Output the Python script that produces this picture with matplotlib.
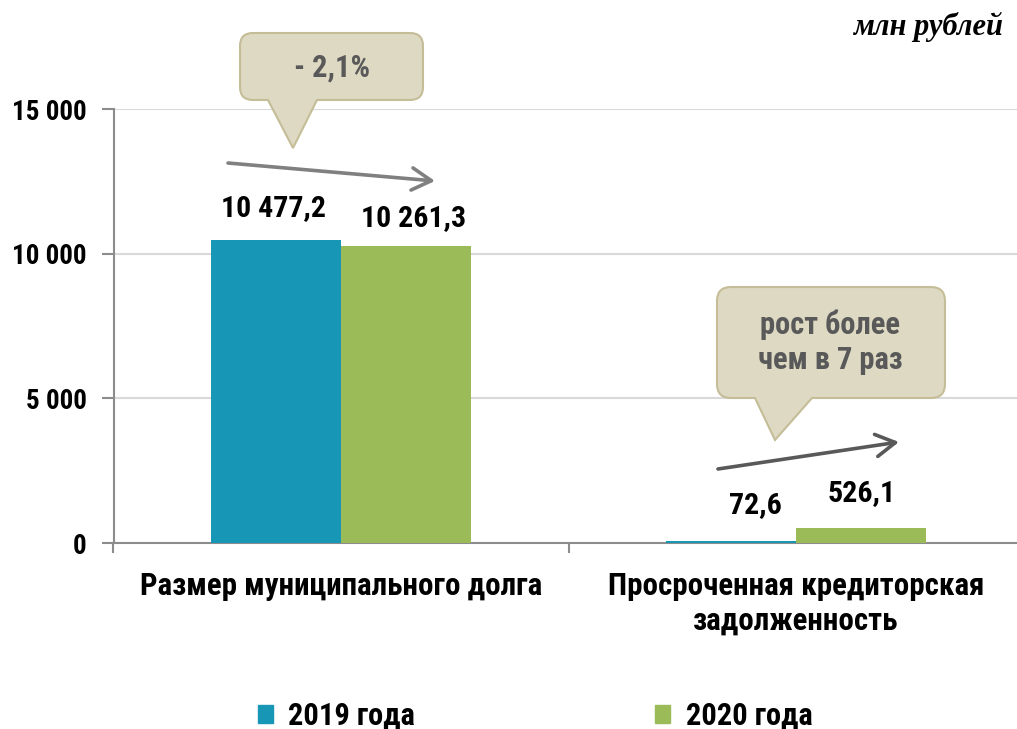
import matplotlib
matplotlib.use("Agg")
import matplotlib.pyplot as plt
import numpy as np
from matplotlib.path import Path
from matplotlib.patches import PathPatch, Patch
from matplotlib import font_manager as fm

W, H = 1017, 729

_names = {f.name for f in fm.fontManager.ttflist}
_pref = ['Liberation Sans Narrow', 'Arial Narrow', 'Roboto Condensed', 'Open Sans Condensed',
         'PT Sans Narrow', 'IBM Plex Sans Condensed', 'Liberation Sans']
SANS = next(n for n in _pref + ['DejaVu Sans'] if n in _names or n == 'DejaVu Sans')
_serif_pref = ['Liberation Serif', 'Tinos', 'Times New Roman', 'DejaVu Serif']
SERIF = next(n for n in _serif_pref if n in _names or n == 'DejaVu Serif')
FONT = [SANS, 'DejaVu Sans']
plt.rcParams['font.family'] = FONT
plt.rcParams['font.weight'] = 'bold'

categories = ['Размер муниципального долга', 'Просроченная кредиторская\nзадолженность']
series_names = ['2019 года', '2020 года']
v2019 = [10477.2, 72.6]
v2020 = [10261.3, 526.1]
labels2019 = ['10 477,2', '72,6']
labels2020 = ['10 261,3', '526,1']
yticks = [0, 5000, 10000, 15000]
ytick_labels = ['0', '5 000', '10 000', '15 000']
callout1 = '- 2,1%'
callout2 = 'рост более\nчем в 7 раз'
unit_text = 'млн рублей'

c2019 = '#1796b6'
c2020 = '#9bbb59'
grid_c = '#d9d9d9'
spine_c = '#8c8c8c'

def P(px, py):
    return (px / W, 1 - py / H)

fig = plt.figure(figsize=(W / 100, H / 100), dpi=100)
ax = fig.add_axes([113.5 / W, 1 - 543 / H, 910 / W, 434 / H])

x = np.arange(len(categories))
w = 0.285
b1 = ax.bar(x - w / 2, v2019, w, color=c2019, zorder=3)
b2 = ax.bar(x + w / 2, v2020, w, color=c2020, zorder=3)

ax.set_xlim(-0.5, 1.5)
ax.set_ylim(0, 15000)
ax.set_yticks(yticks)
ax.set_yticklabels(ytick_labels, fontsize=19.5, fontweight='bold')
ax.set_xticks(x)
ax.set_xticklabels(categories, fontsize=22.3, fontweight='bold', linespacing=1.2)
ax.set_xticks([-0.5, 0.5, 1.5], minor=True)
ax.tick_params(axis='x', which='major', length=0, pad=20)
ax.tick_params(axis='x', which='minor', length=7, width=1.5, color=spine_c, direction='out')
ax.tick_params(axis='y', length=9, width=1.5, color=spine_c, pad=10.5)
for s in ['top', 'right']:
    ax.spines[s].set_visible(False)
for s in ['left', 'bottom']:
    ax.spines[s].set_color(spine_c)
    ax.spines[s].set_linewidth(1.5)
ax.yaxis.grid(True, color=grid_c, linewidth=1.5, zorder=0)
ax.set_axisbelow(True)

# data labels (offsets in pixels: dx, dy above bar top)
offs2019 = [(-3, 32), (24, 36)]
offs2020 = [(8, 28), (1, 35)]
for bars, labs, offs in [(b1, labels2019, offs2019), (b2, labels2020, offs2020)]:
    for r, lab, (dx, dy) in zip(bars, labs, offs):
        ax.annotate(lab, (r.get_x() + r.get_width() / 2, r.get_height()),
                    xytext=(dx, dy), textcoords='offset pixels',
                    ha='center', va='center', fontsize=21.5, fontweight='bold',
                    color='black', zorder=5)

# callouts
def callout(x0, y0, x1, y1, r, bx0, bx1, tx, ty):
    pts = [
        ((x0 + r, y0), Path.MOVETO), ((x1 - r, y0), Path.LINETO),
        ((x1, y0), Path.CURVE3), ((x1, y0 + r), Path.CURVE3),
        ((x1, y1 - r), Path.LINETO),
        ((x1, y1), Path.CURVE3), ((x1 - r, y1), Path.CURVE3),
        ((bx1, y1), Path.LINETO), ((tx, ty), Path.LINETO), ((bx0, y1), Path.LINETO),
        ((x0 + r, y1), Path.LINETO),
        ((x0, y1), Path.CURVE3), ((x0, y1 - r), Path.CURVE3),
        ((x0, y0 + r), Path.LINETO),
        ((x0, y0), Path.CURVE3), ((x0 + r, y0), Path.CURVE3),
        ((x0 + r, y0), Path.CLOSEPOLY),
    ]
    verts = [P(*p) for p, c in pts]
    codes = [c for p, c in pts]
    patch = PathPatch(Path(verts, codes), facecolor='#ddd9c3', edgecolor='#c4bd97',
                      linewidth=1.5, transform=fig.transFigure, zorder=10)
    fig.patches.append(patch)

callout(240, 33, 423, 100, 13, 268, 317, 293, 148)
callout(717, 287, 945, 398, 14, 755, 812, 775, 440)
fig.text(*P(332, 68), callout1, ha='center', va='center', fontsize=22,
         fontweight='bold', color='#595959', zorder=11)
fig.text(*P(830, 342), callout2, ha='center', va='center', fontsize=22,
         fontweight='bold', color='#595959', linespacing=1.2, zorder=11)

# trend arrows
for (sx, sy), (ex, ey), col in [((228, 163), (435, 181), '#808080'),
                                  ((718, 469), (899, 442), '#595959')]:
    ax.annotate('', xy=P(ex, ey), xytext=P(sx, sy), xycoords='figure fraction',
                textcoords='figure fraction',
                arrowprops=dict(arrowstyle='->,head_length=0.7,head_width=0.4',
                                lw=2.6, color=col, mutation_scale=20,
                                shrinkA=0, shrinkB=0), zorder=6)

fig.text(*P(1003, 27), unit_text, ha='right', va='center', fontsize=22,
         fontweight='bold', style='italic', family=[SERIF, 'DejaVu Serif'])

handles = [Patch(color=c2019, label=series_names[0]), Patch(color=c2020, label=series_names[1])]
fig.legend(handles=handles, loc='center', bbox_to_anchor=P(535, 716), ncol=2,
           frameon=False, prop={'size': 22, 'weight': 'bold'}, handlelength=0.5,
           handleheight=0.5, handletextpad=0.5, columnspacing=7.85)

fig.savefig('out.png', dpi=100)
